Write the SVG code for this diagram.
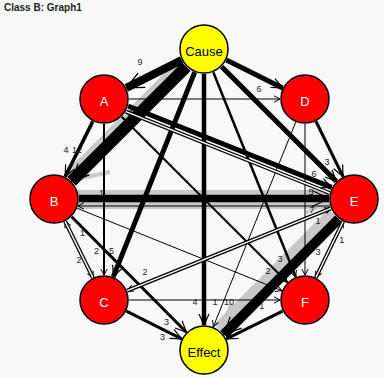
<svg xmlns="http://www.w3.org/2000/svg" width="384" height="378" viewBox="0 0 384 378">
<defs>
<style>
.t{font-family:"Liberation Sans",Arial,sans-serif}
.ttl{font-size:10px;font-weight:bold;fill:#222}
.e{fill:none;stroke:#000;stroke-linecap:butt}
.g{fill:none;stroke:#c8c8c8;stroke-linecap:butt}
.w{fill:none;stroke:#fff;stroke-width:1.4}
.lb{font-size:9px;fill:#222;text-anchor:middle}
.nr{fill:#f00;stroke:#000;stroke-width:1.5}
.ny{fill:#ff0;stroke:#000;stroke-width:1.5}
.nt{font-size:13px;text-anchor:middle}
</style>
<marker id="aS" markerUnits="userSpaceOnUse" orient="auto-start-reverse" overflow="visible" markerWidth="1" markerHeight="1" refX="0" refY="0"><path d="M-6,-3.2 L0,0 L-6,3.2" fill="none" stroke="#000" stroke-width="1"/></marker>
<marker id="aM" markerUnits="userSpaceOnUse" orient="auto-start-reverse" overflow="visible" markerWidth="1" markerHeight="1" refX="0" refY="0"><path d="M-11,-5 L0,0 L-11,5" fill="none" stroke="#000" stroke-width="1.2"/></marker>
<marker id="aL" markerUnits="userSpaceOnUse" orient="auto-start-reverse" overflow="visible" markerWidth="1" markerHeight="1" refX="0" refY="0"><path d="M-17,-8 L0,0 L-17,8" fill="none" stroke="#000" stroke-width="1.3"/></marker>
</defs>
<rect width="384" height="378" fill="#f8f8f8"/>
<text class="t ttl" x="4" y="10.5">Class B: Graph1</text>
<g id="connectors">
<g id="ghost-edges">
<line class="g" x1="184.2" y1="64.6" x2="69.6" y2="179.2" stroke-width="16"/>
<path class="g" d="M110,172 L74,179.5" stroke-width="4"/>
<line class="g" x1="78" y1="199.5" x2="330" y2="199.5" stroke-width="19"/>
<path class="g" d="M306,213 L329,202" stroke-width="3.5"/>
<line class="g" x1="334.3" y1="214.6" x2="219.5" y2="330.2" stroke-width="16"/>
<path class="g" d="M232,303 L221,329" stroke-width="4"/>
</g>
<line class="e" x1="186.3" y1="66.7" x2="71.7" y2="181.3" stroke-width="12" marker-end="url(#aL)"/>
<line class="e" x1="338.7" y1="219" x2="223.9" y2="334.6" stroke-width="10" marker-end="url(#aL)"/>
<line class="e" x1="181.6" y1="60.2" x2="126.4" y2="87.8" stroke-width="8" marker-end="url(#aL)"/>
<line class="e" x1="79" y1="198.5" x2="329" y2="198.5" stroke-width="7.5" marker-end="url(#aL)"/>
<line class="e" x1="194.7" y1="72.2" x2="113.3" y2="276.8" stroke-width="5" marker-end="url(#aM)"/>
<line class="e" x1="226.4" y1="60.1" x2="282.6" y2="87.9" stroke-width="5" marker-end="url(#aM)"/>
<line class="e" x1="221.7" y1="66.7" x2="336.3" y2="181.3" stroke-width="5" marker-end="url(#aM)"/>
<line class="e" x1="128.1" y1="106" x2="331.7" y2="187.4" stroke-width="5" marker-end="url(#aM)"/>
<line class="e" x1="204" y1="74" x2="204" y2="325" stroke-width="4.5" marker-end="url(#aM)"/>
<line class="e" x1="92.8" y1="121.4" x2="65.2" y2="176.6" stroke-width="3.5" marker-end="url(#aM)"/>
<line class="e" x1="316" y1="121.5" x2="343" y2="176.5" stroke-width="3" marker-end="url(#aM)"/>
<line class="e" x1="71.6" y1="216.7" x2="186.4" y2="332.3" stroke-width="3" marker-end="url(#aM)"/>
<line class="e" x1="126.4" y1="311.2" x2="181.6" y2="338.8" stroke-width="3" marker-end="url(#aM)"/>
<line class="e" x1="282.6" y1="311.1" x2="226.4" y2="338.9" stroke-width="3" marker-end="url(#aM)"/>
<line class="e" x1="213.3" y1="72.2" x2="295.7" y2="276.8" stroke-width="2.5" marker-end="url(#aS)"/>
<line class="e" x1="104" y1="124" x2="104" y2="275" stroke-width="2" marker-end="url(#aS)"/>
<line class="e" x1="121.7" y1="116.7" x2="287.3" y2="282.3" stroke-width="2" marker-end="url(#aS)"/>
<line class="e" x1="129" y1="99" x2="280" y2="99" stroke-width="1" marker-end="url(#aS)"/>
<line class="e" x1="129" y1="300" x2="280" y2="300" stroke-width="1" marker-end="url(#aS)"/>
<line class="e" x1="305" y1="124" x2="305" y2="275" stroke-width="1" marker-end="url(#aS)"/>
<line class="e" x1="330" y1="206" x2="78" y2="206" stroke-width="1" marker-end="url(#aS)"/>
<line class="e" x1="77.2" y1="208.3" x2="281.8" y2="290.7" stroke-width="1" marker-end="url(#aS)"/>
<line class="e" x1="295.7" y1="122.2" x2="213.3" y2="326.8" stroke-width="1" marker-end="url(#aS)"/>
<g id="double-edges">
<line class="e" x1="329.5" y1="193" x2="125.9" y2="111.6" stroke-width="4" marker-end="url(#aS)"/>
<line class="w" x1="329.5" y1="193" x2="125.9" y2="111.6"/>
<line class="e" x1="65.1" y1="221.4" x2="92.9" y2="277.6" stroke-width="4" marker-start="url(#aS)" marker-end="url(#aS)"/>
<line class="w" x1="65.1" y1="221.4" x2="92.9" y2="277.6"/>
<line class="e" x1="330.8" y1="208.4" x2="127.2" y2="290.6" stroke-width="4" marker-start="url(#aS)" marker-end="url(#aS)"/>
<line class="w" x1="330.8" y1="208.4" x2="127.2" y2="290.6"/>
<line class="e" x1="343.1" y1="221.5" x2="315.9" y2="277.5" stroke-width="4" marker-start="url(#aS)" marker-end="url(#aS)"/>
<line class="w" x1="343.1" y1="221.5" x2="315.9" y2="277.5"/>
</g>
<g id="edge-labels" class="t lb">
<text x="140" y="65">9</text>
<text x="259" y="91.6">6</text>
<text x="66" y="153.3">4</text>
<text x="77" y="153.3">12</text>
<text x="96.5" y="254.3">2</text>
<text x="111.5" y="254.3">5</text>
<text x="101.5" y="195.8">1</text>
<text x="82.5" y="236.3">1</text>
<text x="79" y="263.3">2</text>
<text x="145" y="274.8">2</text>
<text x="327" y="165">3</text>
<text x="314" y="177.3">6</text>
<text x="311" y="195.3">5</text>
<text x="312" y="213">7</text>
<text x="318" y="223.8">1</text>
<text x="341.7" y="243">1</text>
<text x="318" y="255">3</text>
<text x="280" y="262.3">3</text>
<text x="268" y="274.1">2</text>
<text x="261.7" y="309.3">1</text>
<text x="195" y="304.8">4</text>
<text x="215" y="305.3">1</text>
<text x="229" y="304.8">10</text>
<text x="166.5" y="324.8">3</text>
<text x="162.5" y="340">3</text>
</g>
</g>
<g id="node-cause"><circle class="ny" cx="204" cy="49" r="24"/><text class="t nt" x="204" y="56" fill="#000">Cause</text></g>
<g id="node-a"><circle class="nr" cx="104" cy="99" r="24"/><text class="t nt" x="104" y="106" fill="#fff">A</text></g>
<g id="node-d"><circle class="nr" cx="305" cy="99" r="24"/><text class="t nt" x="305" y="106" fill="#fff">D</text></g>
<g id="node-b"><circle class="nr" cx="54" cy="199" r="24"/><text class="t nt" x="54" y="206" fill="#fff">B</text></g>
<g id="node-e"><circle class="nr" cx="354" cy="199" r="24"/><text class="t nt" x="354" y="206" fill="#fff">E</text></g>
<g id="node-c"><circle class="nr" cx="104" cy="300" r="24"/><text class="t nt" x="104" y="307" fill="#fff">C</text></g>
<g id="node-f"><circle class="nr" cx="305" cy="300" r="24"/><text class="t nt" x="305" y="307" fill="#fff">F</text></g>
<g id="node-effect"><circle class="ny" cx="204" cy="350" r="24"/><text class="t nt" x="204" y="357" fill="#000">Effect</text></g>
</svg>
